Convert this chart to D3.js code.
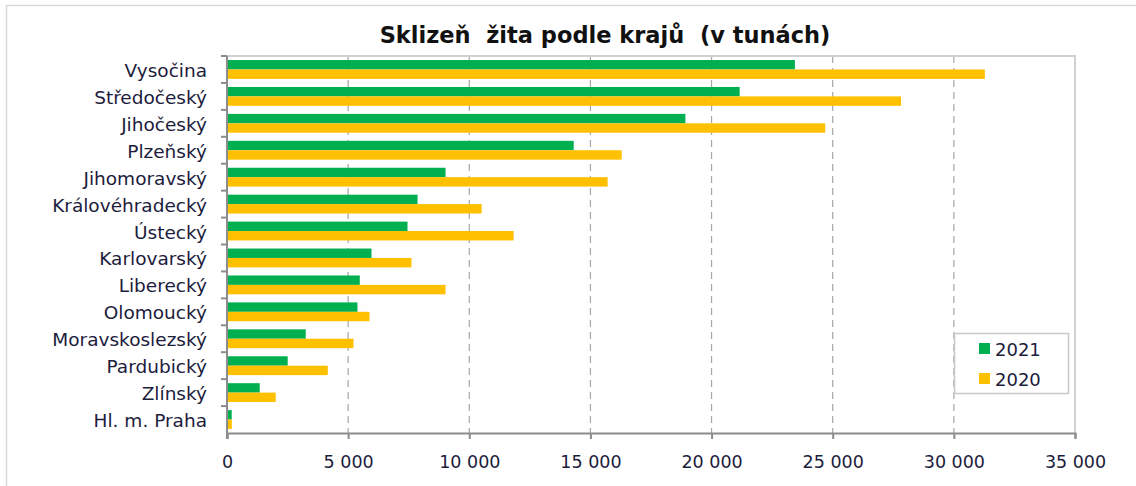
<!DOCTYPE html>
<html>
<head>
<meta charset="utf-8">
<script src="https://cdn.jsdelivr.net/npm/d3@7"></script>
<style>
  html, body { margin: 0; padding: 0; background: #fff; }
  svg { display: block; }
</style>
</head>
<body>
<svg id="chart" width="1136" height="486"></svg>
<script>
const regions = ['Vysočina', 'Středočeský', 'Jihočeský', 'Plzeňský', 'Jihomoravský', 'Královéhradecký', 'Ústecký',
  'Karlovarský', 'Liberecký', 'Olomoucký', 'Moravskoslezský', 'Pardubický', 'Zlínský', 'Hl. m. Praha'];
const harvest2021 = [23440, 21160, 18920, 14310, 9020, 7865, 7450, 5965, 5480, 5385, 3250, 2505, 1350, 195];
const harvest2020 = [31280, 27820, 24690, 16290, 15710, 10510, 11830, 7615, 9020, 5880, 5220, 4160, 2010, 200];
const seriesNames = ['2021', '2020'];
const xTicks = [0, 5000, 10000, 15000, 20000, 25000, 30000, 35000];

const colors = { '2021': '#00b050', '2020': '#ffc000' };
const width = 1136, height = 486;
const margin = { top: 56, right: 61, bottom: 53, left: 227 };
const innerWidth = width - margin.left - margin.right;
const innerHeight = height - margin.top - margin.bottom;
const fontFamily = '"DejaVu Sans", sans-serif';
const textColor = '#1c1c3c';

const svg = d3.select('#chart');

// outer frame, only left and top edges are visible in the source
svg.append('path')
  .attr('d', `M6.5,${height}V5.5H${width}`)
  .attr('fill', 'none').attr('stroke', '#d9d9d9').attr('stroke-width', 1.5);

svg.append('text')
  .attr('x', 605).attr('y', 43)
  .attr('text-anchor', 'middle')
  .attr('font-family', fontFamily)
  .attr('font-weight', 'bold')
  .attr('font-size', 22.5)
  .attr('fill', '#111')
  .style('white-space', 'pre')
  .text('Sklizeň  žita podle krajů  (v tunách)');

const g = svg.append('g').attr('transform', `translate(${margin.left},${margin.top})`);

const x = d3.scaleLinear().domain([0, 35000]).range([0, innerWidth]);
const y = d3.scaleBand().domain(regions).range([0, innerHeight]).paddingInner(0.3).paddingOuter(0.15);
const ySub = d3.scaleBand().domain(seriesNames).range([0, y.bandwidth()]);
const yOuter = d3.scaleBand().domain(regions).range([0, innerHeight]);

// gridlines
g.append('g')
  .selectAll('line')
  .data(xTicks.slice(1, -1))
  .join('line')
  .attr('x1', d => x(d)).attr('x2', d => x(d))
  .attr('y1', 0).attr('y2', innerHeight)
  .attr('stroke', '#a6a6a6')
  .attr('stroke-width', 1.2)
  .attr('stroke-dasharray', '7 5');

// plot frame top/right
g.append('path')
  .attr('d', `M0,0H${innerWidth}V${innerHeight}`)
  .attr('fill', 'none')
  .attr('stroke', '#d0d0d0')
  .attr('stroke-width', 2);

const rows = regions.map((r, i) => ({ region: r, '2021': harvest2021[i], '2020': harvest2020[i] }));

const groups = g.append('g')
  .selectAll('g')
  .data(rows)
  .join('g')
  .attr('transform', d => `translate(0,${y(d.region)})`);

groups.selectAll('rect')
  .data(d => seriesNames.map(s => ({ series: s, value: d[s] })))
  .join('rect')
  .attr('x', 0)
  .attr('y', d => ySub(d.series))
  .attr('width', d => x(d.value))
  .attr('height', ySub.bandwidth())
  .attr('fill', d => colors[d.series]);

// bottom axis
const xAxis = g.append('g')
  .attr('transform', `translate(0,${innerHeight})`)
  .call(d3.axisBottom(x).tickValues(xTicks).tickSize(6).tickPadding(17)
    .tickFormat(d => d3.format(',')(d).replace(/,/g, ' ')));
xAxis.select('.domain').attr('stroke', '#8c8c8c').attr('stroke-width', 2);
xAxis.selectAll('.tick line').attr('stroke', '#8c8c8c').attr('stroke-width', 2);
xAxis.selectAll('text')
  .attr('font-family', fontFamily)
  .attr('font-size', 17.5)
  .attr('fill', textColor)
  .style('white-space', 'pre');

// left axis: ticks at category boundaries
const yAxis = g.append('g');
yAxis.append('line')
  .attr('x1', 0).attr('x2', 0)
  .attr('y1', 0).attr('y2', innerHeight + 6)
  .attr('stroke', '#8c8c8c').attr('stroke-width', 2);
yAxis.selectAll('.bound')
  .data(regions)
  .join('line')
  .attr('class', 'bound')
  .attr('x1', -6).attr('x2', 0)
  .attr('y1', d => yOuter(d)).attr('y2', d => yOuter(d))
  .attr('stroke', '#8c8c8c').attr('stroke-width', 2);
yAxis.selectAll('text')
  .data(regions)
  .join('text')
  .attr('x', -20)
  .attr('y', d => yOuter(d) + yOuter.bandwidth() / 2 + 1)
  .attr('dy', '0.35em')
  .attr('text-anchor', 'end')
  .attr('font-family', fontFamily)
  .attr('font-size', 18.5)
  .attr('fill', textColor)
  .text(d => d);

// legend
const legend = svg.append('g').attr('transform', 'translate(954,333)');
legend.append('rect')
  .attr('x', 0.5).attr('y', 0.5)
  .attr('width', 114).attr('height', 60)
  .attr('fill', '#fff').attr('stroke', '#c8c8c8').attr('stroke-width', 1.5);
seriesNames.forEach((s, i) => {
  const ly = 16 + i * 30;
  legend.append('rect')
    .attr('x', 25).attr('y', ly - 6)
    .attr('width', 11).attr('height', 11)
    .attr('fill', colors[s]);
  legend.append('text')
    .attr('x', 41).attr('y', ly + 1)
    .attr('dy', '0.35em')
    .attr('font-family', fontFamily)
    .attr('font-size', 18)
    .attr('fill', textColor)
    .text(s);
});
</script>
</body>
</html>
